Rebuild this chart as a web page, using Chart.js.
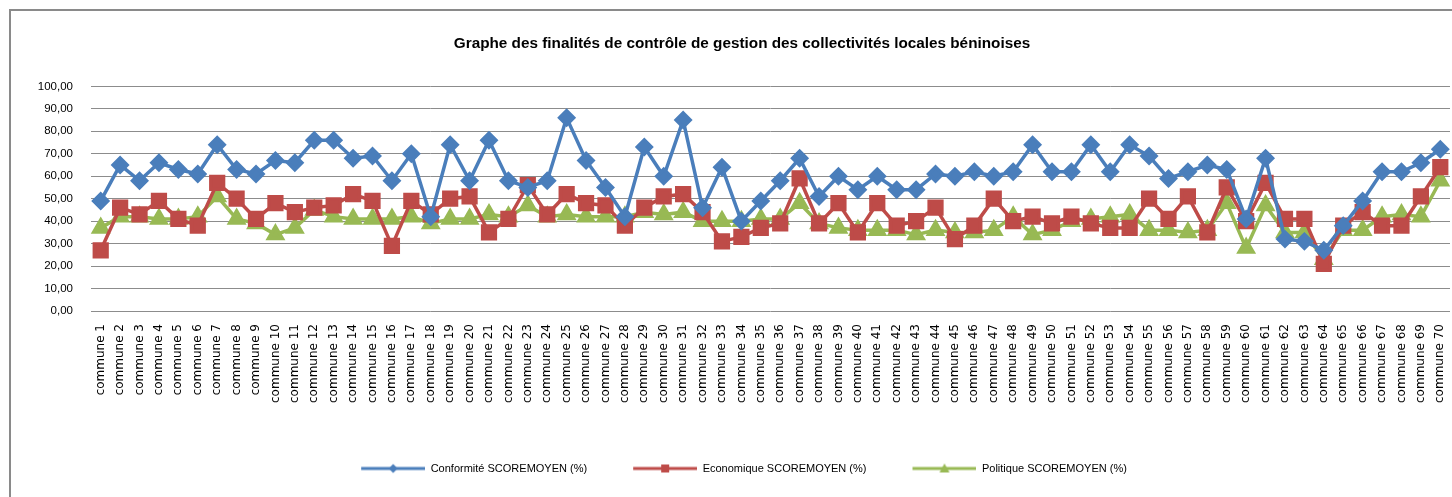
<!DOCTYPE html>
<html>
<head>
<meta charset="utf-8">
<style>
  html, body { margin: 0; padding: 0; background: #fff; }
  #wrap { position: relative; width: 1452px; height: 497px; overflow: hidden; }
  #frame { position: absolute; left: 9px; top: 9px; width: 1500px; height: 600px;
           border-top: 2px solid #8a8a8a; border-left: 2px solid #8a8a8a; }
  #chart { position: absolute; left: 0; top: 0; }
</style>
<script src="https://cdn.jsdelivr.net/npm/chart.js@4/dist/chart.umd.min.js"></script>
</head>
<body>
<div id="wrap">
  <div id="frame"></div>
  <!-- the original chart is wider than the visible crop, so the canvas runs past the right edge -->
  <canvas id="chart" width="1484" height="497"></canvas>
</div>
<script>
const communes = [];
for (let i = 1; i <= 70; i++) communes.push('commune ' + i);

const yTicks = [0, 10, 20, 30, 40, 50, 60, 70, 80, 90, 100];

const conformite = [
  49, 65, 58, 66, 63, 61, 74, 63, 61, 67, 66, 76, 76, 68, 69, 58, 70, 42, 74, 58,
  76, 58, 55, 58, 86, 67, 55, 42, 73, 60, 85, 46, 64, 40, 49, 58, 68, 51, 60, 54,
  60, 54, 54, 61, 60, 62, 60, 62, 74, 62, 62, 74, 62, 74, 69, 59, 62, 65, 63, 41,
  68, 32, 31, 27, 38, 49, 62, 62, 66, 72
];
const economique = [
  27, 46, 43, 49, 41, 38, 57, 50, 41, 48, 44, 46, 47, 52, 49, 29, 49, 43, 50, 51,
  35, 41, 56, 43, 52, 48, 47, 38, 46, 51, 52, 44, 31, 33, 37, 39, 59, 39, 48, 35,
  48, 38, 40, 46, 32, 38, 50, 40, 42, 39, 42, 39, 37, 37, 50, 41, 51, 35, 55, 40,
  57, 41, 41, 21, 38, 44, 38, 38, 51, 64
];
const politique = [
  37, 42, 42, 41, 41, 42, 51, 41, 39, 34, 37, 45, 42, 41, 41, 41, 42, 39, 41, 41,
  43, 42, 47, 42, 43, 42, 42, 42, 44, 43, 44, 40, 40, 40, 41, 41, 48, 39, 37, 36,
  36, 36, 34, 36, 35, 35, 36, 42, 34, 36, 40, 41, 42, 43, 36, 36, 35, 36, 48, 28,
  47, 35, 35, 23, 36, 36, 42, 43, 42, 58
];

const BLUE = '#4a7ebb', RED = '#be4b48', GREEN = '#98b954';

// legend icon: short line with the series marker, small blank margin on the left
function legendIcon(color, shape) {
  const c = document.createElement('canvas');
  c.width = 68; c.height = 12;
  const g = c.getContext('2d');
  const x0 = 4, cx = 4 + 32;
  g.strokeStyle = color; g.fillStyle = color; g.lineWidth = 3;
  g.beginPath(); g.moveTo(x0, 6); g.lineTo(68, 6); g.stroke();
  g.beginPath();
  if (shape === 'diamond') { g.moveTo(cx, 1.5); g.lineTo(cx + 4.5, 6); g.lineTo(cx, 10.5); g.lineTo(cx - 4.5, 6); }
  else if (shape === 'square') { g.rect(cx - 4, 2, 8, 8); }
  else { g.moveTo(cx, 1); g.lineTo(cx + 5, 10); g.lineTo(cx - 5, 10); }
  g.closePath(); g.fill();
  return c;
}
const icons = [legendIcon(BLUE, 'diamond'), legendIcon(RED, 'square'), legendIcon(GREEN, 'triangle')];

const font = "'Liberation Sans', Arial, sans-serif";

new Chart(document.getElementById('chart').getContext('2d'), {
  type: 'line',
  data: {
    labels: communes,
    datasets: [
      {
        label: 'Conformité SCOREMOYEN (%)',
        data: conformite,
        borderColor: BLUE, backgroundColor: BLUE,
        borderWidth: 3.5, pointStyle: 'rectRot', pointRadius: 7, pointHoverRadius: 7,
      },
      {
        label: 'Economique SCOREMOYEN (%)',
        data: economique,
        borderColor: RED, backgroundColor: RED,
        borderWidth: 3.5, pointStyle: 'rect', pointRadius: 9, pointHoverRadius: 9,
      },
      {
        label: 'Politique SCOREMOYEN (%)',
        data: politique,
        borderColor: GREEN, backgroundColor: GREEN,
        borderWidth: 3.5, pointStyle: 'triangle', pointRadius: 8, pointHoverRadius: 8,
      },
    ],
  },
  options: {
    responsive: false,
    animation: false,
    layout: { padding: { left: 0, right: 0, top: 0, bottom: 13 } },
    plugins: {
      title: {
        display: true,
        text: 'Graphe des finalités de contrôle de gestion des collectivités locales béninoises',
        color: '#000',
        font: { size: 15.3, weight: 'bold', family: font },
        padding: { top: 35, bottom: 33 },
      },
      legend: {
        position: 'bottom',
        labels: {
          color: '#000',
          font: { size: 11, family: font },
          usePointStyle: true,
          pointStyleWidth: 68,
          padding: 42,
          generateLabels(chart) {
            return chart.data.datasets.map((ds, i) => ({
              text: ds.label,
              fillStyle: ds.borderColor,
              strokeStyle: ds.borderColor,
              lineWidth: 0,
              pointStyle: icons[i],
              datasetIndex: i,
              fontColor: '#000',
            }));
          },
        },
      },
      tooltip: { enabled: false },
    },
    scales: {
      y: {
        min: 0, max: 100,
        afterBuildTicks(scale) { scale.ticks = yTicks.map(v => ({ value: v })); },
        afterFit(scale) { scale.width = 91; },
        border: { display: false },
        grid: { color: '#8c8c8c', lineWidth: 1, drawTicks: false },
        ticks: {
          color: '#000',
          padding: 18,
          font: { size: 11.5, family: font },
          callback: v => v.toFixed(2).replace('.', ','),
        },
      },
      x: {
        offset: true,
        border: { display: false },
        grid: { display: false },
        afterFit(scale) {
          scale.height = 110;
          scale.paddingLeft = 0;
          scale.paddingRight = 34; // plot stops at x=1450, the hidden part of the chart lies beyond
        },
        ticks: {
          color: '#000',
          autoSkip: false,
          maxRotation: 90, minRotation: 90,
          padding: 5,
          font: { size: 12, family: "'DejaVu Sans', sans-serif" },
        },
      },
    },
  },
});
</script>
</body>
</html>
